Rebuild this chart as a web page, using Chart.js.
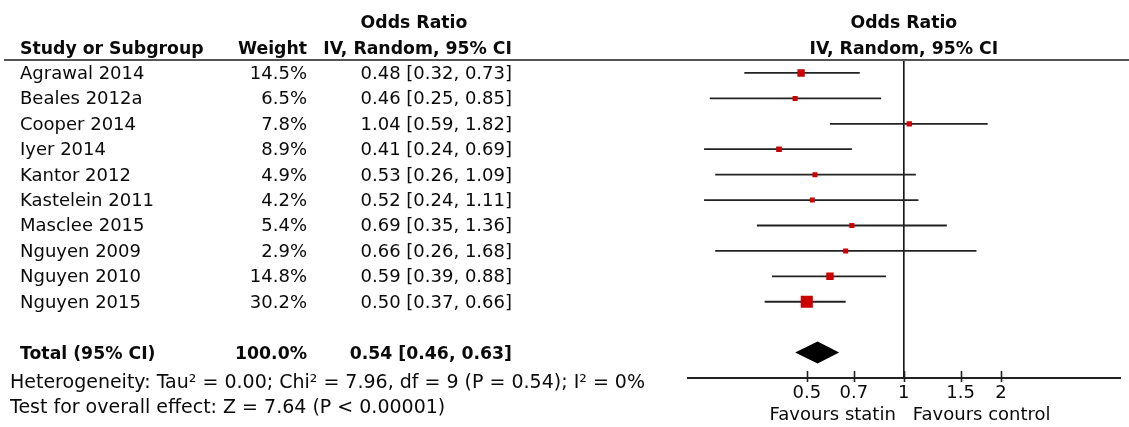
<!DOCTYPE html>
<html lang="en">
<head>
<meta charset="UTF-8">
<title>Odds Ratio forest plot</title>
<script src="https://cdn.jsdelivr.net/npm/chart.js"></script>
<style>
  html, body { margin: 0; padding: 0; background: #fff; }
  body { width: 1129px; height: 427px; position: relative; overflow: hidden;
         font-family: "DejaVu Sans", Verdana, sans-serif; color: #0a0a0a; }
  #plot { position: absolute; left: 0; top: 0; }
  .t { position: absolute; white-space: nowrap; font-size: 18px; line-height: 22px; transform: translateY(-50%); }
  .b { font-weight: bold; font-size: 17.3px; }
  .s { font-size: 19px; }
  .r { transform: translate(-100%, -50%); }
  .c { transform: translate(-50%, -50%); }
  .hline { position: absolute; left: 4px; right: 0; top: 59px; height: 2px; background: #555; }
</style>
</head>
<body>
<canvas id="plot" width="1129" height="427"></canvas>
<div class="hline"></div>
<div id="labels"></div>

<script>
  // study rows
  const studies = ["Agrawal 2014", "Beales 2012a", "Cooper 2014", "Iyer 2014", "Kantor 2012",
                   "Kastelein 2011", "Masclee 2015", "Nguyen 2009", "Nguyen 2010", "Nguyen 2015"];
  const weights   = [14.5, 6.5, 7.8, 8.9, 4.9, 4.2, 5.4, 2.9, 14.8, 30.2];
  const oddsRatio = [0.48, 0.46, 1.04, 0.41, 0.53, 0.52, 0.69, 0.66, 0.59, 0.50];
  const ciLow     = [0.32, 0.25, 0.59, 0.24, 0.26, 0.24, 0.35, 0.26, 0.39, 0.37];
  const ciHigh    = [0.73, 0.85, 1.82, 0.69, 1.09, 1.11, 1.36, 1.68, 0.88, 0.66];

  // pooled estimate
  const totalLabel  = "Total (95% CI)";
  const totalWeight = 100.0;
  const totalOR     = 0.54;
  const totalLow    = 0.46;
  const totalHigh   = 0.63;

  const tickValues = [0.5, 0.7, 1, 1.5, 2];
  const heterogeneity = "Heterogeneity: Tau\u00b2 = 0.00; Chi\u00b2 = 7.96, df = 9 (P = 0.54); I\u00b2 = 0%";
  const overallEffect = "Test for overall effect: Z = 7.64 (P < 0.00001)";

  const FONT = '"DejaVu Sans", Verdana, sans-serif';
  const totalRow = studies.length + 1;
  const yTop = -0.51, yBottom = 12;

  function boxSide(w) { return Math.max(5, 3 + 0.3 * w); }

  const tickMarks = {
    id: 'tickMarks',
    afterDraw(chart) {
      const { ctx, scales: { x }, chartArea } = chart;
      ctx.save();
      ctx.strokeStyle = '#222';
      ctx.lineWidth = 1.6;
      tickValues.forEach(v => {
        const px = Math.round(x.getPixelForValue(v)) + 0.5;
        ctx.beginPath();
        ctx.moveTo(px, chartArea.bottom - 7);
        ctx.lineTo(px, chartArea.bottom + 4);
        ctx.stroke();
      });
      ctx.restore();
    }
  };

  const diamond = {
    id: 'diamond',
    afterDatasetsDraw(chart) {
      const { ctx, scales: { x, y } } = chart;
      const py = y.getPixelForValue(totalRow);
      const l = x.getPixelForValue(totalLow);
      const m = x.getPixelForValue(totalOR);
      const r = x.getPixelForValue(totalHigh);
      ctx.save();
      ctx.fillStyle = '#000';
      ctx.beginPath();
      ctx.moveTo(l, py);
      ctx.lineTo(m, py - 11);
      ctx.lineTo(r, py);
      ctx.lineTo(m, py + 11);
      ctx.closePath();
      ctx.fill();
      ctx.restore();
    }
  };

  const datasets = [{
    type: 'scatter',
    data: oddsRatio.map((v, i) => ({ x: v, y: i })),
    pointStyle: 'rect',
    pointRadius: weights.map(w => boxSide(w) / Math.SQRT2),
    backgroundColor: '#cc0000',
    borderWidth: 0
  }];
  studies.forEach((s, i) => {
    datasets.push({
      type: 'line',
      data: [{ x: ciLow[i], y: i }, { x: ciHigh[i], y: i }],
      borderColor: '#222',
      borderWidth: 1.8,
      pointRadius: 0
    });
  });
  datasets.push({
    type: 'line',
    data: [{ x: 1, y: yTop }, { x: 1, y: yBottom }],
    borderColor: '#111',
    borderWidth: 1.6,
    pointRadius: 0
  });

  const chart = new Chart(document.getElementById('plot'), {
    data: { datasets: datasets },
    options: {
      responsive: false,
      animation: false,
      layout: { padding: { left: 688, right: 4, top: 60, bottom: 0 } },
      plugins: { legend: { display: false }, tooltip: { enabled: false } },
      scales: {
        x: {
          type: 'logarithmic',
          min: 0.214,
          max: 4.7,
          afterFit(scale) { scale.height = 49; },
          afterBuildTicks(scale) { scale.ticks = tickValues.map(v => ({ value: v })); },
          grid: { display: false, drawTicks: false },
          border: { display: true, color: '#222', width: 2 },
          ticks: {
            autoSkip: false, maxRotation: 0, padding: 5,
            color: '#0a0a0a', font: { family: FONT, size: 18 },
            callback: v => String(v)
          }
        },
        y: { type: 'linear', min: yTop, max: yBottom, reverse: true, display: false }
      }
    },
    plugins: [tickMarks, diamond]
  });

  // table text, placed on the chart's own rows
  const box = document.getElementById('labels');
  function addText(txt, x, y, cls) {
    const d = document.createElement('div');
    d.className = 't ' + (cls || '');
    d.style.left = x + 'px';
    d.style.top = y + 'px';
    d.textContent = txt;
    box.appendChild(d);
  }
  const fmtCI = (o, l, h) => o.toFixed(2) + ' [' + l.toFixed(2) + ', ' + h.toFixed(2) + ']';
  const ys = chart.scales.y, xs = chart.scales.x;

  addText('Odds Ratio', 414, 22, 'b c');
  addText('Study or Subgroup', 20, 48, 'b');
  addText('Weight', 307, 48, 'b r');
  addText('IV, Random, 95% CI', 512, 48, 'b r');
  addText('Odds Ratio', xs.getPixelForValue(1), 22, 'b c');
  addText('IV, Random, 95% CI', xs.getPixelForValue(1), 48, 'b c');

  studies.forEach((s, i) => {
    const y = ys.getPixelForValue(i);
    addText(s, 20, y);
    addText(weights[i].toFixed(1) + '%', 307, y, 'r');
    addText(fmtCI(oddsRatio[i], ciLow[i], ciHigh[i]), 512, y, 'r');
  });

  const yt = ys.getPixelForValue(totalRow);
  addText(totalLabel, 20, yt, 'b');
  addText(totalWeight.toFixed(1) + '%', 307, yt, 'b r');
  addText(fmtCI(totalOR, totalLow, totalHigh), 512, yt, 'b r');
  addText(heterogeneity, 10, 381, 's');
  addText(overallEffect, 10, 406, 's');

  addText('Favours statin', xs.getPixelForValue(1) - 8, 414, 'r');
  addText('Favours control', xs.getPixelForValue(1) + 9, 414);
</script>
</body>
</html>
